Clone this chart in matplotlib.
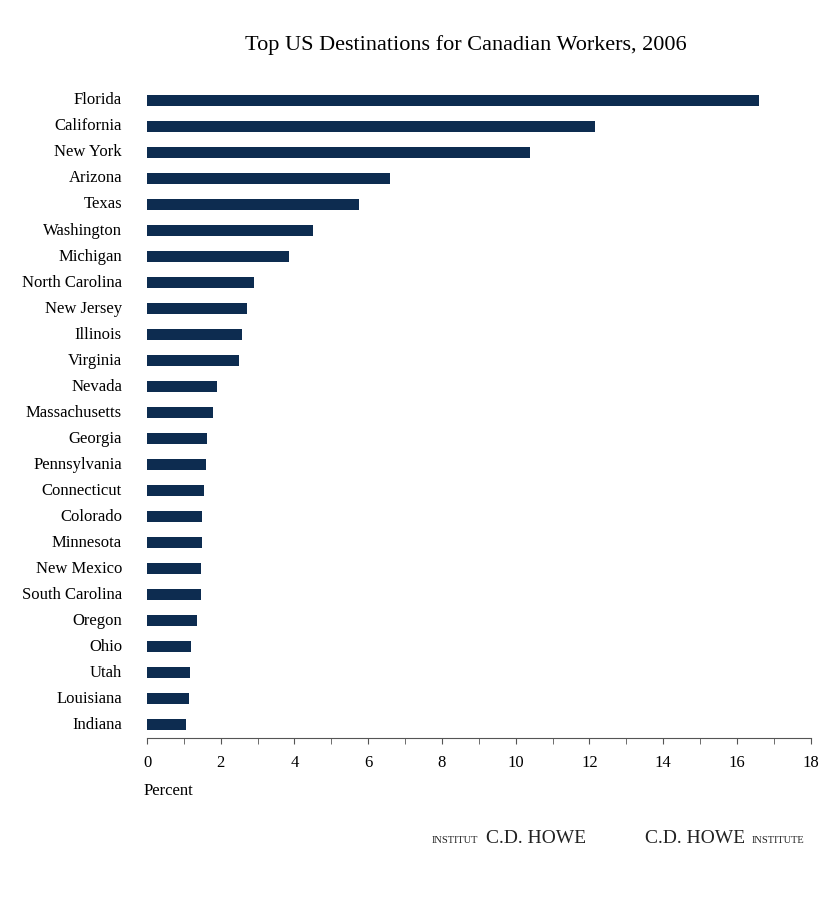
import matplotlib
matplotlib.use("Agg")
import matplotlib.pyplot as plt

states = ["Florida","California","New York","Arizona","Texas","Washington","Michigan",
          "North Carolina","New Jersey","Illinois","Virginia","Nevada","Massachusetts",
          "Georgia","Pennsylvania","Connecticut","Colorado","Minnesota","New Mexico",
          "South Carolina","Oregon","Ohio","Utah","Louisiana","Indiana"]
values = [16.6,12.15,10.4,6.6,5.75,4.5,3.85,2.9,2.7,2.57,2.5,1.9,1.78,1.62,1.6,
          1.55,1.5,1.5,1.47,1.46,1.35,1.2,1.17,1.15,1.05]
xticks = [0,2,4,6,8,10,12,14,16,18]

plt.rcParams["font.family"] = "Liberation Serif"
fig = plt.figure(figsize=(8.4, 9.01), dpi=100)
fig.patch.set_facecolor("white")
ax = fig.add_axes([0.175, 0.181, 0.79, 0.722])
ypos = list(range(len(states)))
ax.barh(ypos, values, height=0.42, color="#0d2c50")
ax.set_ylim(len(states)-0.5, -0.5)
ax.set_xlim(0, 18)
ax.set_yticks(ypos)
ax.set_yticklabels(states, fontsize=12)
ax.tick_params(axis="y", length=0, pad=18)
for lbl in ax.get_yticklabels():
    lbl.set_verticalalignment("center")
ax.set_xticks(xticks)
ax.set_xticklabels([str(t) for t in xticks], fontsize=12)
ax.set_xticks([x+1 for x in xticks[:-1]], minor=True)
ax.tick_params(axis="x", which="both", direction="out", length=4, color="#555555", pad=8)
for s in ["top","right","left"]:
    ax.spines[s].set_visible(False)
ax.spines["bottom"].set_color("#555555")
ax.set_xlabel("Percent", fontsize=12)
ax.xaxis.set_label_coords(-0.005, -0.07)
ax.xaxis.label.set_horizontalalignment("left")
fig.text(0.555, 0.945, "Top US Destinations for Canadian Workers, 2006", ha="center",
         fontsize=16)
fig.text(0.514, 0.064, "INSTITUT", ha="left", fontsize=7.5, color="#222222")
fig.text(0.698, 0.064, "C.D. HOWE", ha="right", fontsize=14, color="#222222")
fig.text(0.768, 0.064, "C.D. HOWE", ha="left", fontsize=14, color="#222222")
fig.text(0.958, 0.064, "INSTITUTE", ha="right", fontsize=7.5, color="#222222")
fig.savefig("out.png", dpi=100)
